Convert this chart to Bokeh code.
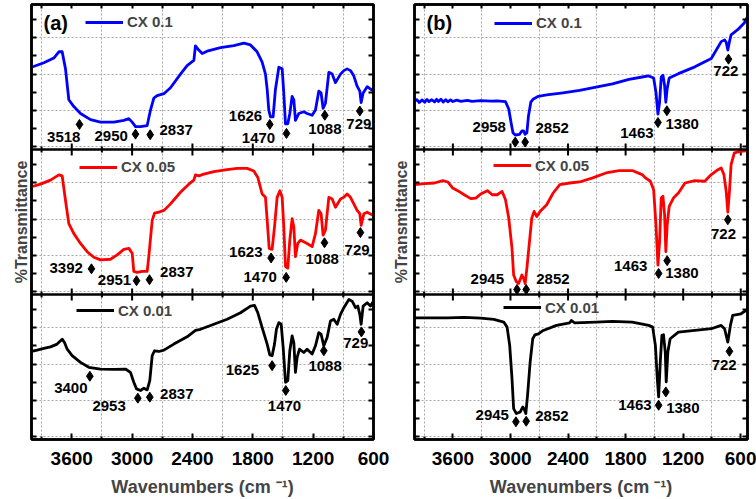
import math
from bokeh.plotting import figure
from bokeh.models import (Range1d, FixedTicker, LinearAxis, Span, Legend,
                          LegendItem, ColumnDataSource, Label)
from bokeh.layouts import row
from bokeh.embed import file_html
from bokeh.resources import INLINE
from bokeh.core.properties import value

# ---------------- data: panel (a) ----------------
a1_wn = [4000, 3877, 3778, 3728, 3695, 3662, 3629, 3579, 3513, 3413, 3314, 3182, 3082, 3032, 2999,
         2966, 2916, 2850, 2817, 2784, 2751, 2684, 2618, 2519, 2453, 2386, 2370, 2337, 2303, 2254,
         2121, 1989, 1889, 1823, 1757, 1707, 1674, 1657, 1641, 1624, 1598, 1575, 1541, 1508, 1492,
         1475, 1452, 1432, 1409, 1392, 1376, 1343, 1293, 1260, 1210, 1177, 1144, 1121, 1101, 1078,
         1044, 1011, 978, 928, 895, 862, 829, 796, 763, 736, 723, 703, 663, 614, 600]
a1_t = [56.7, 59.8, 63.1, 67.4, 67.4, 55.6, 34.3, 29.6, 24.8, 20.6, 18.9, 18.9, 20.1, 21.3, 18.9,
        15.8, 15.8, 16.5, 27.2, 35.5, 37.1, 38.5, 42.6, 52.0, 57.9, 61.5, 71.4, 68.6, 66.2, 67.8,
        70.2, 71.6, 73.3, 72.1, 67.4, 60.3, 52.0, 41.4, 27.2, 22.5, 22.5, 41.4, 56.7, 55.6, 39.0,
        17.7, 17.7, 24.8, 36.6, 34.3, 20.1, 24.8, 26.0, 24.8, 23.6, 27.2, 40.2, 39.0, 28.4, 31.9,
        53.2, 52.0, 46.1, 52.0, 54.4, 55.6, 54.4, 50.8, 43.7, 40.2, 32.4, 39.0, 43.3, 40.9, 40.9]
a1_pk_wn = [3523, 2966, 2820, 1631, 1465, 1084, 736]
a1_pk_t = [17.3, 10.6, 10.2, 17.3, 11.1, 23.6, 26.5]
a1_pk_lbl = ["3518", "2950", "2837", "1626", "1470", "1088", "729"]

a2_wn = [4000, 3911, 3811, 3728, 3695, 3662, 3629, 3579, 3513, 3447, 3380, 3314, 3215, 3148, 3082,
         3032, 2999, 2983, 2950, 2900, 2850, 2834, 2800, 2777, 2734, 2684, 2618, 2519, 2436, 2386,
         2370, 2337, 2287, 2187, 2055, 1956, 1856, 1790, 1750, 1707, 1674, 1657, 1637, 1608, 1584,
         1558, 1531, 1508, 1492, 1475, 1452, 1432, 1409, 1392, 1376, 1353, 1326, 1293, 1260, 1210,
         1177, 1144, 1121, 1101, 1078, 1044, 1011, 978, 928, 895, 862, 829, 796, 763, 736, 723,
         696, 663, 600]
a2_t = [74.3, 76.1, 78.9, 82.5, 81.8, 64.8, 48.9, 42.0, 35.2, 29.5, 25.7, 23.9, 24.3, 27.3, 31.1,
        31.8, 28.4, 15.9, 15.2, 15.9, 15.9, 26.1, 51.1, 56.1, 56.8, 58.0, 62.5, 70.5, 76.1, 78.9,
        82.5, 81.8, 83.0, 84.8, 86.1, 87.0, 87.0, 85.2, 80.7, 69.3, 67.0, 51.1, 31.8, 31.1, 46.6,
        67.0, 71.6, 67.0, 46.6, 19.3, 18.2, 37.5, 52.3, 46.6, 26.1, 35.2, 37.5, 36.4, 35.2, 33.0,
        42.0, 58.0, 55.7, 40.9, 44.3, 67.0, 65.9, 60.2, 65.9, 67.0, 69.3, 67.0, 62.5, 58.0, 55.7,
        47.7, 55.7, 56.8, 54.5]
a2_pk_wn = [3404, 2956, 2827, 1618, 1468, 1087, 730]
a2_pk_t = [17.7, 9.5, 10.2, 25.2, 11.8, 35.7, 42.7]
a2_pk_lbl = ["3392", "2951", "2837", "1623", "1470", "1088", "729"]

a3_wn = [4000, 3944, 3877, 3811, 3745, 3695, 3672, 3645, 3596, 3513, 3430, 3314, 3182, 3066, 3016,
         2983, 2956, 2916, 2883, 2850, 2824, 2800, 2777, 2734, 2684, 2585, 2453, 2370, 2320, 2187,
         2055, 1922, 1823, 1783, 1750, 1707, 1657, 1631, 1608, 1584, 1565, 1541, 1518, 1498, 1475,
         1452, 1432, 1409, 1392, 1376, 1359, 1336, 1293, 1260, 1210, 1177, 1144, 1121, 1094, 1061,
         1028, 995, 961, 928, 895, 845, 812, 779, 756, 736, 723, 703, 663, 630, 600]
a3_t = [60.7, 61.6, 62.8, 63.9, 65.8, 69.2, 66.9, 62.3, 57.8, 53.2, 49.8, 48.6, 48.4, 48.6, 46.3,
        39.5, 34.9, 33.8, 35.4, 34.2, 40.6, 57.8, 61.2, 60.7, 61.6, 65.8, 70.8, 75.3, 76.0, 79.5,
        82.9, 87.4, 92.0, 92.5, 87.4, 77.2, 65.8, 58.4, 57.8, 65.8, 76.0, 80.6, 79.5, 63.5, 39.5,
        40.6, 61.2, 71.5, 66.9, 46.3, 56.6, 62.3, 60.0, 62.3, 58.9, 64.6, 73.7, 72.6, 64.6, 70.3,
        81.7, 82.9, 79.5, 86.3, 90.9, 96.6, 95.4, 90.9, 92.0, 86.3, 79.5, 92.0, 94.3, 92.0, 95.4]
a3_pk_wn = [3420, 2943, 2824, 1608, 1472, 1094, 720]
a3_pk_t = [43.6, 28.5, 29.2, 50.9, 33.8, 61.2, 74.2]
a3_pk_lbl = ["3400", "2953", "2837", "1625", "1470", "1088", "729"]

# ---------------- data: panel (b) ----------------
b1_wn = [4000, 3975, 3950, 3920, 3894, 3870, 3850, 3820, 3791, 3770, 3750, 3725, 3700, 3675, 3653,
         3625, 3600, 3560, 3516, 3450, 3400, 3310, 3200, 3138,
         3052, 3018, 2994, 2974, 2950, 2905, 2881, 2864, 2847, 2829, 2812, 2788, 2761, 2709, 2623,
         2452, 2280, 2108, 1937, 1765, 1628, 1559, 1508, 1484, 1463, 1446, 1429, 1411, 1394, 1381,
         1367, 1346, 1250, 1078, 907, 804, 769, 752, 735, 718, 701, 632, 564, 520]
b1_t = [33.3, 34.4, 32.4, 34.2, 32.6, 34.5, 33.0, 34.3, 32.8, 34.6, 33.1, 34.7, 32.7, 34.4, 32.9,
        34.2, 33.1, 34.0, 33.2, 33.9, 33.2, 33.7, 33.3, 33.5,
        33.0, 27.9, 18.6, 11.6, 10.0, 10.5, 12.8, 12.8, 10.5, 11.6, 23.3, 32.6, 34.9, 36.7, 37.7,
        39.1, 40.7, 43.0, 45.3, 48.4, 50.0, 50.7, 49.3, 39.5, 24.4, 32.6, 50.0, 51.2, 44.2, 32.6,
        41.9, 49.3, 52.3, 57.0, 62.8, 74.4, 75.6, 74.0, 68.6, 74.4, 79.1, 82.6, 87.2, 93.0]
b1_pk_wn = [2950, 2847, 1463, 1370, 728]
b1_pk_t = [5.1, 5.1, 18.6, 26.7, 62.3]
b1_pk_lbl = ["2958", "2852", "1463", "1380", "722"]

b2_wn = [4000, 3894, 3791, 3705, 3653, 3602, 3550, 3482, 3413, 3361, 3310, 3241, 3190, 3138, 3087,
         3052, 3018, 2984, 2967, 2939, 2915, 2881, 2864, 2847, 2829, 2802, 2778, 2754, 2726, 2692,
         2623, 2555, 2486, 2383, 2280, 2143, 2005, 1868, 1731, 1628, 1593, 1542, 1508, 1484, 1463,
         1446, 1429, 1411, 1394, 1381, 1367, 1346, 1302, 1250, 1181, 1078, 975, 907, 838, 804,
         776, 752, 735, 718, 701, 667, 598, 520]
b2_t = [75.8, 76.4, 76.9, 78.5, 77.6, 73.4, 71.6, 68.8, 66.1, 66.5, 69.3, 71.6, 68.8, 68.8, 71.1,
        65.4, 52.7, 31.9, 13.4, 8.8, 7.6, 13.4, 11.1, 7.6, 18.0, 36.5, 52.7, 57.3, 53.8, 57.3,
        61.9, 70.0, 75.8, 76.9, 77.6, 80.4, 83.8, 85.5, 85.5, 82.7, 80.4, 78.1, 72.3, 48.0, 20.3,
        36.5, 66.5, 67.7, 55.0, 29.6, 48.0, 60.7, 66.5, 70.0, 76.9, 78.5, 78.1, 82.7, 86.1, 87.3,
        82.7, 71.1, 56.8, 71.1, 89.6, 97.7, 98.8, 99.3]
b2_pk_wn = [2932, 2836, 1456, 1367, 735]
b2_pk_t = [3.5, 3.5, 14.5, 23.3, 51.5]
b2_pk_lbl = ["2945", "2852", "1463", "1380", "722"]

b3_wn = [4000, 3825, 3653, 3482, 3310, 3173, 3070, 3035, 3008, 2984, 2967, 2939, 2898, 2871, 2857,
         2840, 2822, 2795, 2768, 2744, 2709, 2658, 2520, 2383, 2366, 2332, 2108, 1937, 1731, 1559,
         1518, 1490, 1470, 1456, 1439, 1422, 1405, 1387, 1377, 1360, 1336, 1250, 1078, 907, 804,
         769, 735, 708, 684, 598, 520]
b3_t = [83.9, 83.9, 83.9, 84.2, 83.7, 82.8, 81.0, 77.5, 64.9, 42.0, 21.3, 17.9, 19.0, 22.5, 20.9,
        17.9, 30.5, 53.4, 69.5, 72.2, 72.9, 75.2, 78.7, 80.5, 82.1, 80.5, 81.0, 81.4, 81.0, 78.7,
        77.5, 64.9, 42.0, 29.4, 53.4, 71.8, 72.2, 60.3, 39.7, 60.3, 69.5, 74.1, 75.2, 76.4, 78.7,
        76.4, 67.2, 78.7, 85.6, 86.7, 90.1]
b3_pk_wn = [2943, 2836, 1456, 1381, 718]
b3_pk_t = [12.2, 12.6, 23.6, 32.8, 60.8]
b3_pk_lbl = ["2945", "2852", "1463", "1380", "722"]

x_tick_major = [3600, 3000, 2400, 1800, 1200, 600]
x_tick_minor = [3900, 3300, 2700, 2100, 1500, 900]

# ---------------- layout / style (pixels) ----------------
FONT = "Liberation Sans"
BLUE, RED, BLACK = "#0000FF", "#FF0000", "#000000"
BAND = 100
H_FIG = 499
TOP, BOTTOM = 4, 60
FH = H_FIG - TOP - BOTTOM
LW = 2.8

# label offsets (px) relative to the diamond marker
a1_dx = [-15.7, -24.3, 26, -24.3, -28, 0, -1]
a1_dy = [12.7, 1.7, -4.7, -8, 5, 13.3, 13]
a2_dx = [-25.3, -22, 27.3, -25.3, -26, -2.3, -3.3]
a2_dy = [-1.3, -1, -7.3, -6.3, 0, 16.7, 17]
a3_dx = [-19, -28.7, 27, -29.7, -1.3, 1.3, -5.7]
a3_dy = [11.7, 8.3, -3.3, 4, 16, 15.3, 11.3]
b1_dx = [-26, 27, -21, 15.3, -2.7]
b1_dy = [-15.3, -14.3, 10, 13.3, 12]
b2_dx = [-29.7, 26.7, -28, 14.7, -4.3]
b2_dy = [-10, -10, -7.7, 12.7, 14.3]
b3_dx = [-23.7, 25.7, -23.7, 17, -5.3]
b3_dy = [-7.3, -5.3, 0, 16, 13.3]


def y_ticks():
    major, minor = [], []
    for k in range(3):
        major += [k * BAND + v for v in (2, 27, 52, 77)]
        minor += [k * BAND + v for v in (14.5, 39.5, 64.5, 89.5)]
    return major, minor


def style_axis(ax):
    ax.axis_line_color = BLACK
    ax.axis_line_width = 2.5
    ax.major_tick_in = 6
    ax.major_tick_out = 0
    ax.minor_tick_in = 3
    ax.minor_tick_out = 0
    ax.major_tick_line_width = 2
    ax.minor_tick_line_width = 2
    ax.major_tick_line_color = BLACK
    ax.minor_tick_line_color = BLACK


def build(tag, x_end, width, left, right, ylab_standoff, spectra):
    p = figure(width=width, height=H_FIG, x_range=Range1d(4000, x_end),
               y_range=Range1d(0, 3 * BAND), output_backend="svg",
               toolbar_location=None, min_border_left=left, min_border_right=right,
               min_border_top=TOP, min_border_bottom=BOTTOM)
    p.background_fill_color = "white"
    p.border_fill_color = "white"
    p.outline_line_color = BLACK
    p.outline_line_width = 2.5

    ymaj, ymin = y_ticks()
    xt = FixedTicker(ticks=x_tick_major, minor_ticks=x_tick_minor)
    xt_marks = FixedTicker(ticks=[], minor_ticks=x_tick_major + x_tick_minor)
    yt_marks = FixedTicker(ticks=[], minor_ticks=ymaj + ymin)

    xa = p.xaxis[0]
    xa.ticker = xt
    style_axis(xa)
    xa.major_label_text_font = FONT
    xa.major_label_text_font_style = "bold"
    xa.major_label_text_font_size = "19px"
    xa.major_label_text_color = BLACK
    xa.major_label_standoff = 12
    xa.axis_label = "Wavenumbers (cm \u207b\u00b9)"
    xa.axis_label_text_font = FONT
    xa.axis_label_text_font_style = "bold"
    xa.axis_label_text_font_size = "18px"
    xa.axis_label_standoff = 9

    ya = p.yaxis[0]
    ya.ticker = yt_marks
    style_axis(ya)
    ya.minor_tick_in = 5
    ya.major_label_standoff = 0
    ya.axis_label = "%Transmittance"
    ya.axis_label_text_font = FONT
    ya.axis_label_text_font_style = "bold"
    ya.axis_label_text_font_size = "16px"
    ya.axis_label_standoff = ylab_standoff

    top_ax = LinearAxis(ticker=xt_marks)
    style_axis(top_ax)
    top_ax.minor_tick_in = 4
    top_ax.major_label_standoff = 0
    p.add_layout(top_ax, "above")
    right_ax = LinearAxis(ticker=yt_marks)
    style_axis(right_ax)
    right_ax.minor_tick_in = 5
    right_ax.major_label_standoff = 0
    p.add_layout(right_ax, "right")

    p.xgrid.ticker = xt
    p.xgrid.grid_line_color = None
    p.xgrid.minor_grid_line_color = "#a8a8a8"
    p.xgrid.minor_grid_line_dash = "2 2"
    p.xgrid.minor_grid_line_width = 1
    p.ygrid.ticker = FixedTicker(ticks=ymaj)
    p.ygrid.grid_line_color = "#a8a8a8"
    p.ygrid.grid_line_dash = "2 2"
    p.ygrid.grid_line_width = 1

    # band separators with in-pointing ticks on both sides
    for k in (1, 2):
        p.add_layout(Span(location=k * BAND, dimension="width", line_color=BLACK, line_width=2.5))
        p.scatter(x=x_tick_major, y=[k * BAND] * len(x_tick_major), marker="dash",
                  angle=math.pi / 2, size=12, line_color=BLACK, line_width=2)
        p.scatter(x=x_tick_minor, y=[k * BAND] * len(x_tick_minor), marker="dash",
                  angle=math.pi / 2, size=6, line_color=BLACK, line_width=2)

    for s in spectra:
        off = s["band"] * BAND
        r = p.line(s["wn"], [v + off for v in s["t"]], line_color=s["color"], line_width=LW,
                   line_join="round")
        src = ColumnDataSource(dict(x=s["pk_wn"], y=[v + off for v in s["pk_t"]],
                                    txt=s["pk_lbl"], dx=s["dx"], dy=s["dy"]))
        p.scatter("x", "y", source=src, marker="diamond", size=10, fill_color=BLACK,
                  line_color=BLACK)
        p.text("x", "y", text="txt", source=src, x_offset="dx", y_offset="dy",
               text_align="center", text_baseline="middle", text_font=value(FONT),
               text_font_style="bold", text_font_size="15px", text_color=BLACK)
        lg = Legend(items=[LegendItem(label=s["name"], renderers=[r])],
                    location=s["leg"], border_line_color=None, background_fill_alpha=0,
                    padding=0, margin=0, spacing=0, glyph_width=38, glyph_height=18,
                    label_height=18, label_standoff=4, label_text_font=FONT,
                    label_text_font_style="bold", label_text_font_size="15px")
        p.add_layout(lg)

    p.add_layout(Label(x=12, y=FH - 18, x_units="screen", y_units="screen", text=tag,
                       text_font=FONT, text_font_style="bold", text_font_size="20px",
                       text_baseline="middle", text_color=BLACK))
    return p


pa = build("(a)", 600, 389, 31, 16, 2, [
    dict(name="CX 0.1", color=BLUE, band=2, wn=a1_wn, t=a1_t, pk_wn=a1_pk_wn, pk_t=a1_pk_t,
         pk_lbl=a1_pk_lbl, dx=a1_dx, dy=a1_dy, leg=(54, FH - 17.7 - 9)),
    dict(name="CX 0.05", color=RED, band=1, wn=a2_wn, t=a2_t, pk_wn=a2_pk_wn, pk_t=a2_pk_t,
         pk_lbl=a2_pk_lbl, dx=a2_dx, dy=a2_dy, leg=(48, FH - 162.7 - 9)),
    dict(name="CX 0.01", color=BLACK, band=0, wn=a3_wn, t=a3_t, pk_wn=a3_pk_wn, pk_t=a3_pk_t,
         pk_lbl=a3_pk_lbl, dx=a3_dx, dy=a3_dy, leg=(45, FH - 306 - 9)),
])
pb = build("(b)", 530, 367, 20, 9, 5, [
    dict(name="CX 0.1", color=BLUE, band=2, wn=b1_wn, t=b1_t, pk_wn=b1_pk_wn, pk_t=b1_pk_t,
         pk_lbl=b1_pk_lbl, dx=b1_dx, dy=b1_dy, leg=(80, FH - 18.7 - 9)),
    dict(name="CX 0.05", color=RED, band=1, wn=b2_wn, t=b2_t, pk_wn=b2_pk_wn, pk_t=b2_pk_t,
         pk_lbl=b2_pk_lbl, dx=b2_dx, dy=b2_dy, leg=(79, FH - 161 - 9)),
    dict(name="CX 0.01", color=BLACK, band=0, wn=b3_wn, t=b3_t, pk_wn=b3_pk_wn, pk_t=b3_pk_t,
         pk_lbl=b3_pk_lbl, dx=b3_dx, dy=b3_dy, leg=(89, FH - 303 - 9)),
])

layout = row(pa, pb)
open("out.html", "w").write(file_html(layout, INLINE))
